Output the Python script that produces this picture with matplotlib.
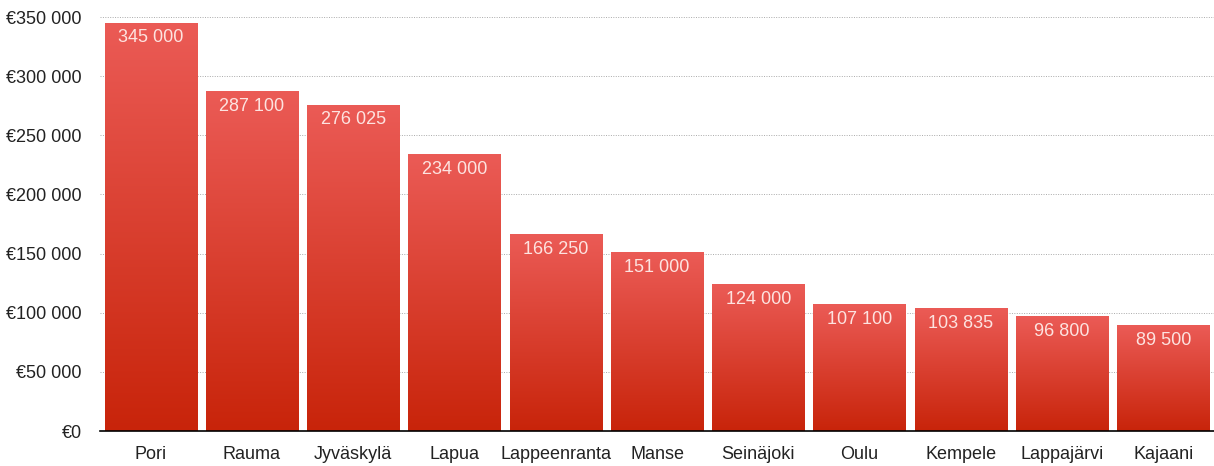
import numpy as np
import matplotlib.pyplot as plt
from matplotlib.colors import LinearSegmentedColormap
from matplotlib.ticker import FuncFormatter

plt.rcParams['font.family'] = ['Liberation Sans', 'DejaVu Sans']

cities = ['Pori', 'Rauma', 'Jyväskylä', 'Lapua', 'Lappeenranta', 'Manse',
          'Seinäjoki', 'Oulu', 'Kempele', 'Lappajärvi', 'Kajaani']
amounts = [345000, 287100, 276025, 234000, 166250, 151000,
           124000, 107100, 103835, 96800, 89500]


def fi_number(v):
    return '{:,}'.format(int(v)).replace(',', ' ')


fig = plt.figure(figsize=(12.14, 4.66), dpi=100)
ax = fig.add_axes([100 / 1214, 35 / 466, 1114 / 1214, 414 / 466])

cmap = LinearSegmentedColormap.from_list('redgrad', ['#c8240a', '#eb5b56'])
grad = np.linspace(0, 1, 256).reshape(-1, 1)

x = np.arange(len(cities))
bars = ax.bar(x, amounts, width=0.91, color='none', zorder=2)
for b, v in zip(bars, amounts):
    x0 = b.get_x()
    im = ax.imshow(grad, cmap=cmap, origin='lower', aspect='auto',
                   extent=(x0, x0 + b.get_width(), 0, v), zorder=2)
    im.set_clip_path(b)
    ax.text(b.get_x() + b.get_width() / 2, v - 5500, fi_number(v),
            ha='center', va='top', fontsize=13, color='#fde3e0', zorder=3)

ax.set_xlim(-0.5, len(cities) - 0.5)
ax.set_ylim(0, 350000)
ax.set_yticks(np.arange(0, 350001, 50000))
ax.yaxis.set_major_formatter(FuncFormatter(lambda v, p: '€' + fi_number(v)))
ax.set_xticks(x)
ax.set_xticklabels(cities)
ax.tick_params(axis='both', length=0, labelsize=13, colors='#222222')
ax.tick_params(axis='x', pad=11)
ax.tick_params(axis='y', pad=13)

ax.grid(axis='y', color='#aaaaaa', linestyle=(0, (1, 1.5)), linewidth=0.7, zorder=0)
ax.set_axisbelow(True)
for s in ['top', 'right', 'left']:
    ax.spines[s].set_visible(False)
ax.spines['bottom'].set_color('black')
ax.spines['bottom'].set_linewidth(1.2)

fig.savefig('out.png', dpi=100)
